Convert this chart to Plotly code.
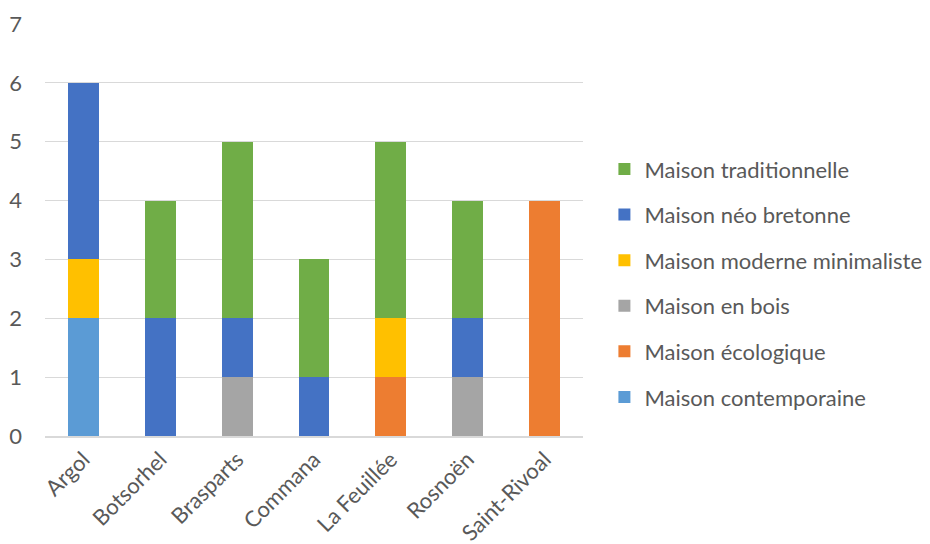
import plotly.graph_objects as go

communes = ["Argol", "Botsorhel", "Brasparts", "Commana", "La Feuillée", "Rosnoën", "Saint-Rivoal"]

contemporaine = [2, 0, 0, 0, 0, 0, 0]
ecologique = [0, 0, 0, 0, 1, 0, 4]
bois = [0, 0, 1, 0, 0, 1, 0]
moderne = [1, 0, 0, 0, 1, 0, 0]
neo_bretonne = [3, 2, 1, 1, 0, 1, 0]
traditionnelle = [0, 2, 3, 2, 3, 2, 0]

series = [
    ("Maison contemporaine", contemporaine, "#5B9BD5"),
    ("Maison écologique", ecologique, "#ED7D31"),
    ("Maison en bois", bois, "#A5A5A5"),
    ("Maison moderne minimaliste", moderne, "#FFC000"),
    ("Maison néo bretonne", neo_bretonne, "#4472C4"),
    ("Maison traditionnelle", traditionnelle, "#70AD47"),
]

font_family = "Lato, 'Open Sans', sans-serif"
fig = go.Figure()
n = len(series)
for i, (name, vals, color) in enumerate(series):
    fig.add_trace(go.Bar(
        x=communes, y=vals, name=name, marker_color=color,
        marker_line_width=0, legendgroup=f"g{i}", legendrank=n - i,
    ))

fig.update_layout(
    barmode="stack",
    bargap=0.60,
    width=930, height=544,
    margin=dict(l=37, r=355, t=16, b=116, autoexpand=False),
    plot_bgcolor="white", paper_bgcolor="white",
    font=dict(family=font_family, size=22, color="#595959"),
    legend=dict(
        traceorder="grouped", tracegroupgap=14,
        x=1.0398, xanchor="left", y=0.371, yanchor="middle",
        font=dict(size=22, color="#595959"),
        itemwidth=30,
    ),
    showlegend=True,
)
fig.update_yaxes(
    range=[0, 7], dtick=1, showgrid=True, gridcolor="#D9D9D9", gridwidth=1,
    zeroline=False, showline=False, ticks="", tickfont=dict(size=22, color="#595959"),
    ticklabelstandoff=22, automargin=False,
)
fig.update_xaxes(
    tickangle=-45, showline=True, linecolor="#D9D9D9", linewidth=2,
    ticks="", tickfont=dict(size=22, color="#595959"), automargin=False,
)

fig.write_html("out.html")
